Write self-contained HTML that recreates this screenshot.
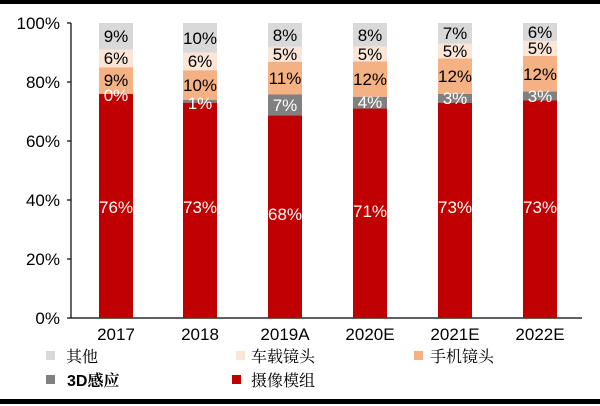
<!DOCTYPE html>
<html><head><meta charset="utf-8"><style>
body{margin:0;background:#fff}
svg{display:block}
text{font-family:"Liberation Sans","Noto Sans CJK SC",sans-serif;font-size:16px}
.ax{font-size:17px}
.lg{font-family:"Liberation Serif","Noto Serif CJK SC",serif;font-size:16px}
</style></head><body>
<svg width="600" height="406" viewBox="0 0 600 406">
<rect x="0" y="0" width="600" height="406" fill="#fff"/>
<rect x="0" y="0" width="600" height="4" fill="#000"/>
<rect x="0" y="399" width="600" height="5" fill="#000"/>
<line x1="71" y1="23" x2="71" y2="318" stroke="#000" stroke-width="1.2"/>
<line x1="71" y1="318" x2="582" y2="318" stroke="#000" stroke-width="1.2"/>
<g stroke="#000" stroke-width="1.2">
<line x1="67" y1="23" x2="71" y2="23"/><line x1="67" y1="82" x2="71" y2="82"/><line x1="67" y1="141" x2="71" y2="141"/><line x1="67" y1="200" x2="71" y2="200"/><line x1="67" y1="259" x2="71" y2="259"/><line x1="67" y1="318" x2="71" y2="318"/>
</g>
<g text-anchor="end" fill="#000" class="ax">
<text x="60" y="29" class="ax">100%</text><text x="60" y="88" class="ax">80%</text><text x="60" y="147" class="ax">60%</text><text x="60" y="206" class="ax">40%</text><text x="60" y="265" class="ax">20%</text><text x="60" y="324" class="ax">0%</text>
</g>
<g text-anchor="middle">
<text x="116" y="340" class="ax">2017</text><text x="200" y="340" class="ax">2018</text><text x="285" y="340" class="ax">2019A</text><text x="370" y="340" class="ax">2020E</text><text x="455" y="340" class="ax">2021E</text><text x="540" y="340" class="ax">2022E</text>
</g>
<rect x="99" y="93.8" width="34" height="224.2" fill="#c00000"/>
<rect x="99" y="67.25" width="34" height="26.55" fill="#f4b183"/>
<rect x="99" y="49.55" width="34" height="17.7" fill="#fbe5d6"/>
<rect x="99" y="23" width="34" height="26.55" fill="#d9d9d9"/>
<rect x="183" y="102.65" width="34" height="215.35" fill="#c00000"/>
<rect x="183" y="99.7" width="34" height="2.95" fill="#808080"/>
<rect x="183" y="70.2" width="34" height="29.5" fill="#f4b183"/>
<rect x="183" y="52.5" width="34" height="17.7" fill="#fbe5d6"/>
<rect x="183" y="23" width="34" height="29.5" fill="#d9d9d9"/>
<rect x="268" y="115.4" width="34" height="202.6" fill="#c00000"/>
<rect x="268" y="94.5" width="34" height="20.9" fill="#808080"/>
<rect x="268" y="61.7" width="34" height="32.8" fill="#f4b183"/>
<rect x="268" y="46.8" width="34" height="14.9" fill="#fbe5d6"/>
<rect x="268" y="23" width="34" height="23.8" fill="#d9d9d9"/>
<rect x="353" y="108.55" width="34" height="209.45" fill="#c00000"/>
<rect x="353" y="96.75" width="34" height="11.8" fill="#808080"/>
<rect x="353" y="61.35" width="34" height="35.4" fill="#f4b183"/>
<rect x="353" y="46.6" width="34" height="14.75" fill="#fbe5d6"/>
<rect x="353" y="23" width="34" height="23.6" fill="#d9d9d9"/>
<rect x="438" y="102.65" width="34" height="215.35" fill="#c00000"/>
<rect x="438" y="93.8" width="34" height="8.85" fill="#808080"/>
<rect x="438" y="58.4" width="34" height="35.4" fill="#f4b183"/>
<rect x="438" y="43.65" width="34" height="14.75" fill="#fbe5d6"/>
<rect x="438" y="23" width="34" height="20.65" fill="#d9d9d9"/>
<rect x="523" y="100.5" width="34" height="217.5" fill="#c00000"/>
<rect x="523" y="91.56" width="34" height="8.94" fill="#808080"/>
<rect x="523" y="55.8" width="34" height="35.76" fill="#f4b183"/>
<rect x="523" y="40.9" width="34" height="14.9" fill="#fbe5d6"/>
<rect x="523" y="23" width="34" height="17.9" fill="#d9d9d9"/>
<g text-anchor="middle" fill="#000">
<text x="116" y="42" class="ax">9%</text><text x="116" y="64" class="ax">6%</text><text x="116" y="86" class="ax">9%</text>
<text x="200" y="44" class="ax">10%</text><text x="200" y="67" class="ax">6%</text><text x="200" y="91" class="ax">10%</text>
<text x="285" y="41" class="ax">8%</text><text x="285" y="60" class="ax">5%</text><text x="285" y="84" class="ax">11%</text>
<text x="370" y="41" class="ax">8%</text><text x="370" y="60" class="ax">5%</text><text x="370" y="85" class="ax">12%</text>
<text x="455" y="39" class="ax">7%</text><text x="455" y="57" class="ax">5%</text><text x="455" y="82" class="ax">12%</text>
<text x="540" y="38" class="ax">6%</text><text x="540" y="54" class="ax">5%</text><text x="540" y="80" class="ax">12%</text>
</g>
<g text-anchor="middle" fill="#fff">
<text x="116" y="101" class="ax">0%</text><text x="200" y="109" class="ax">1%</text><text x="285" y="111" class="ax">7%</text><text x="370" y="108" class="ax">4%</text><text x="455" y="104" class="ax">3%</text><text x="540" y="102" class="ax">3%</text>
<text x="116" y="213" class="ax">76%</text><text x="200" y="213" class="ax">73%</text><text x="285" y="220" class="ax">68%</text><text x="370" y="217" class="ax">71%</text><text x="455" y="213" class="ax">73%</text><text x="540" y="213" class="ax">73%</text>
</g>
<rect x="46" y="351" width="9" height="9" fill="#d9d9d9"/>
<text x="66" y="362" class="lg">其他</text>
<rect x="236" y="351" width="9" height="9" fill="#fbe5d6"/>
<text x="251" y="362" class="lg">车载镜头</text>
<rect x="414" y="351" width="9" height="9" fill="#f4b183"/>
<text x="430" y="362" class="lg">手机镜头</text>
<rect x="46" y="375" width="9" height="9" fill="#808080"/>
<text x="67" y="386" font-weight="bold">3D<tspan class="lg">感应</tspan></text>
<rect x="232" y="375" width="9" height="9" fill="#c00000"/>
<text x="251" y="386" class="lg">摄像模组</text>
</svg>
</body></html>
